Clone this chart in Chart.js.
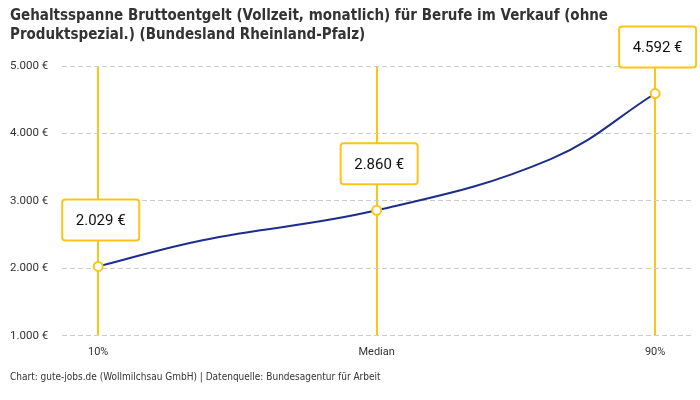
<!DOCTYPE html>
<html>
<head>
<meta charset="utf-8">
<script src="https://cdn.jsdelivr.net/npm/chart.js@4"></script>
<style>
  html, body { margin: 0; padding: 0; background: #fff; }
  #wrap { width: 700px; height: 400px; }
</style>
</head>
<body>
<div id="wrap"><canvas id="salaryChart"></canvas></div>
<script>
// labelled percentiles
var categories = ['10%', 'Median', '90%'];
var catPercentiles = [10, 50, 90];
var catValues = [2029, 2860, 4592];

// curve support points
var curvePercentiles = [10, 25, 50, 75, 90];
var curveValues = [2029, 2418, 2860, 3620, 4592];

var yTicks = [1000, 2000, 3000, 4000, 5000];

var yellow = '#fcc419';
var navy = '#1c2d8c';
var textColor = '#333333';
var narrow = "'DejaVu Sans Condensed', 'Liberation Sans Narrow', Roboto, sans-serif";

function euro(v) {
     return v.toLocaleString('de-DE') + ' €';
}

var valueBoxes = {
     id: 'valueBoxes',
     afterDatasetsDraw: function (chart) {
          var ctx = chart.ctx;
          var xs = chart.scales.x, ys = chart.scales.y;
          ctx.save();
          for (var i = 0; i < categories.length; i++) {
               var px = xs.getPixelForValue(catPercentiles[i]);
               var py = ys.getPixelForValue(catValues[i]);
               var w = 77, h = 41;
               var cx = px + 2.5;
               var bottom = py - 26;
               ctx.beginPath();
               ctx.roundRect(cx - w / 2, bottom - h, w, h, 3);
               ctx.fillStyle = '#ffffff';
               ctx.fill();
               ctx.lineWidth = 2;
               ctx.strokeStyle = yellow;
               ctx.stroke();
               ctx.fillStyle = '#111111';
               ctx.font = '15px Roboto';
               ctx.textAlign = 'center';
               ctx.textBaseline = 'middle';
               ctx.fillText(euro(catValues[i]), cx, bottom - h / 2 + 1);
          }
          ctx.restore();
     }
};

var ctx = document.getElementById('salaryChart').getContext('2d');
var salaryChart = new Chart(ctx, {
     type: 'line',
     data: {
          datasets: [{
               data: curvePercentiles.map(function (p, i) { return { x: p, y: curveValues[i] }; }),
               borderColor: navy,
               borderWidth: 2,
               tension: 0.4,
               pointRadius: function (c) {
                    return catPercentiles.indexOf(c.raw.x) >= 0 ? 4.5 : 0;
               },
               pointHoverRadius: 0,
               pointBackgroundColor: '#ffffff',
               pointBorderColor: yellow,
               pointBorderWidth: 2,
               clip: false
          }]
     },
     options: {
          responsive: true,
          maintainAspectRatio: false,
          animation: false,
          layout: { padding: { top: 6, left: 10, right: 8, bottom: 6 } },
          scales: {
               x: {
                    type: 'linear',
                    min: 4.8,
                    max: 95.3,
                    afterBuildTicks: function (scale) {
                         scale.ticks = catPercentiles.map(function (v) { return { value: v }; });
                    },
                    ticks: {
                         padding: 10,
                         color: textColor,
                         font: { family: 'Roboto', size: 11 },
                         callback: function (v) { return categories[catPercentiles.indexOf(v)]; }
                    },
                    grid: { color: yellow, lineWidth: 2, drawTicks: false },
                    border: { display: false }
               },
               y: {
                    min: 1000,
                    max: 5000,
                    afterBuildTicks: function (scale) {
                         scale.ticks = yTicks.map(function (v) { return { value: v }; });
                    },
                    afterFit: function (scale) { scale.width = 52; },
                    ticks: {
                         crossAlign: 'far',
                         color: textColor,
                         font: { family: 'Roboto', size: 11.5 },
                         callback: function (v) { return euro(v); }
                    },
                    grid: { color: '#cccccc', lineWidth: 1, drawTicks: false },
                    border: { display: false, dash: [5, 3] }
               }
          },
          plugins: {
               legend: { display: false },
               tooltip: { enabled: false },
               title: {
                    display: true,
                    align: 'start',
                    text: ['Gehaltsspanne Bruttoentgelt (Vollzeit, monatlich) für Berufe im Verkauf (ohne', 'Produktspezial.) (Bundesland Rheinland-Pfalz)'],
                    color: textColor,
                    font: { family: narrow, size: 15, weight: 'bold', lineHeight: 1.3 },
                    padding: { top: 0, bottom: 21 }
               },
               subtitle: {
                    display: true,
                    position: 'bottom',
                    align: 'start',
                    text: 'Chart: gute-jobs.de (Wollmilchsau GmbH) | Datenquelle: Bundesagentur für Arbeit',
                    color: textColor,
                    font: { family: narrow, size: 10, lineHeight: 1.2 },
                    padding: { top: 2, bottom: 11 }
               }
          }
     },
     plugins: [valueBoxes]
});
</script>
</body>
</html>
